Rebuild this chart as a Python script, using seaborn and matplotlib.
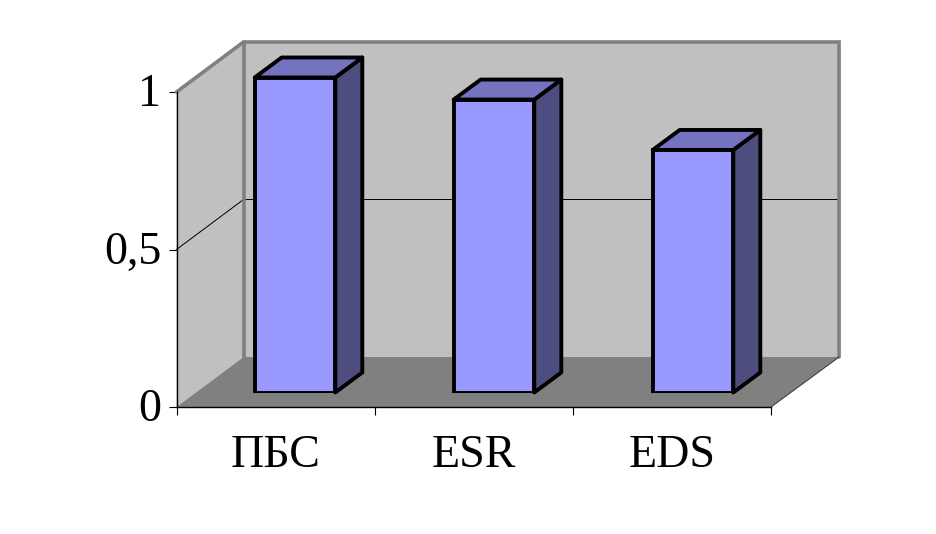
import seaborn as sns
import pandas as pd
from matplotlib import pyplot as plt
from matplotlib.patches import Polygon
from matplotlib.transforms import ScaledTranslation

categories = ['ПБС', 'ESR', 'EDS']
values = [1.0, 0.93, 0.77]
y_ticks = [0, 0.5, 1]
y_tick_labels = ['0', '0,5', '1']

W, H = 936, 534
sns.set_style('white')
plt.rcParams['font.family'] = ['Liberation Serif', 'DejaVu Serif']
plt.rcParams['text.color'] = 'black'
plt.rcParams['xtick.color'] = 'black'
plt.rcParams['ytick.color'] = 'black'

fig = plt.figure(figsize=(W / 100, H / 100), dpi=100)


def axes_px(left, right, top, bottom):
    return fig.add_axes([left / W, 1 - bottom / H, (right - left) / W, (bottom - top) / H])


# front plane of the fake 3d box
ax = axes_px(176.5, 771, 92, 407)
ax.set_xlim(0, 3)
ax.set_ylim(0, 1)
ax.patch.set_alpha(0)

# one unit of chart depth in data coords
depth_x = 67 / 198
depth_y = 50 / 315
back_x = 3 + 68 / 198


def box_poly(a, pts, **kw):
    a.add_patch(Polygon(pts, closed=True, clip_on=False, **kw))


x_end = len(categories)
box_poly(ax, [(0, 0), (depth_x, depth_y), (depth_x, 1 + depth_y), (0, 1)], fc='#c0c0c0', ec='none', zorder=1)
box_poly(ax, [(depth_x, depth_y), (back_x, depth_y), (back_x, 1 + depth_y), (depth_x, 1 + depth_y)],
         fc='#c0c0c0', ec='none', zorder=1)
box_poly(ax, [(0, 0), (x_end, 0), (back_x, depth_y), (depth_x, depth_y)], fc='#808080', ec='none', zorder=2)

# gridline at 0,5
ax.plot([0, depth_x, back_x], [0.5, 0.5 + depth_y, 0.5 + depth_y], color='black', lw=0.7,
        clip_on=False, zorder=2)

# wall outlines
wall = dict(color='#808080', lw=2.6, clip_on=False, zorder=2, solid_joinstyle='miter')
ax.plot([0, depth_x, back_x, back_x], [1, 1 + depth_y, 1 + depth_y, depth_y], **wall)
ax.plot([depth_x, depth_x], [depth_y, 1 + depth_y], **wall)
ax.plot([x_end, back_x], [0, depth_y], color='#404040', lw=0.8, clip_on=False, zorder=3)

# axes
sns.despine(ax=ax, top=True, right=True)
for side in ['left', 'bottom']:
    ax.spines[side].set_linewidth(1.0)
    ax.spines[side].set_color('black')
    ax.spines[side].set_zorder(4)

ax.set_yticks(y_ticks)
ax.set_yticklabels(y_tick_labels, fontsize=33, color='black')
ax.set_xticks(range(len(categories) + 1))
ax.set_xticklabels([])
ax.set_xticks([i + 0.5 for i in range(len(categories))], categories, minor=True, fontsize=33, color='black')
ax.tick_params(axis='x', which='major', length=6, width=0.8, color='black', bottom=True, direction='out')
ax.tick_params(axis='x', which='minor', length=0, pad=20, bottom=False, labelsize=33, labelcolor='black')
ax.tick_params(axis='y', length=6, width=0.8, color='black', left=True, direction='out', pad=5, labelcolor='black')
ax.set_xlabel('')
ax.set_ylabel('')

# nudge the y labels up a bit
for lab in ax.get_yticklabels():
    lab.set_transform(lab.get_transform() + ScaledTranslation(0, 1.5 / 72, fig.dpi_scale_trans))

# bars stand inside the box, so they get an axes shifted into the depth
bar_ax = axes_px(195.5, 792.5, 77.5, 392.5)
bar_ax.patch.set_alpha(0)
df = pd.DataFrame({'cat': categories, 'val': values})
sns.barplot(data=df, x='cat', y='val', ax=bar_ax, color='#9999ff', saturation=1, width=0.405,
            edgecolor='black', linewidth=2.8, zorder=5)
bar_ax.set_xlim(-0.5, 2.5)
bar_ax.set_ylim(0, 1)
bar_ax.axis('off')

bar_dx = 27 / 199
bar_dy = 20 / 315
for p in list(bar_ax.patches):
    x0, x1 = p.get_x(), p.get_x() + p.get_width()
    h = p.get_height()
    box_poly(bar_ax, [(x1, 0), (x1 + bar_dx, bar_dy), (x1 + bar_dx, h + bar_dy), (x1, h)],
             fc='#4d4d80', ec='black', lw=2.8, zorder=4, joinstyle='round')
    box_poly(bar_ax, [(x0, h), (x0 + bar_dx, h + bar_dy), (x1 + bar_dx, h + bar_dy), (x1, h)],
             fc='#7373bf', ec='black', lw=2.8, zorder=4, joinstyle='round')

fig.savefig('out.png', dpi=100, facecolor='white')
